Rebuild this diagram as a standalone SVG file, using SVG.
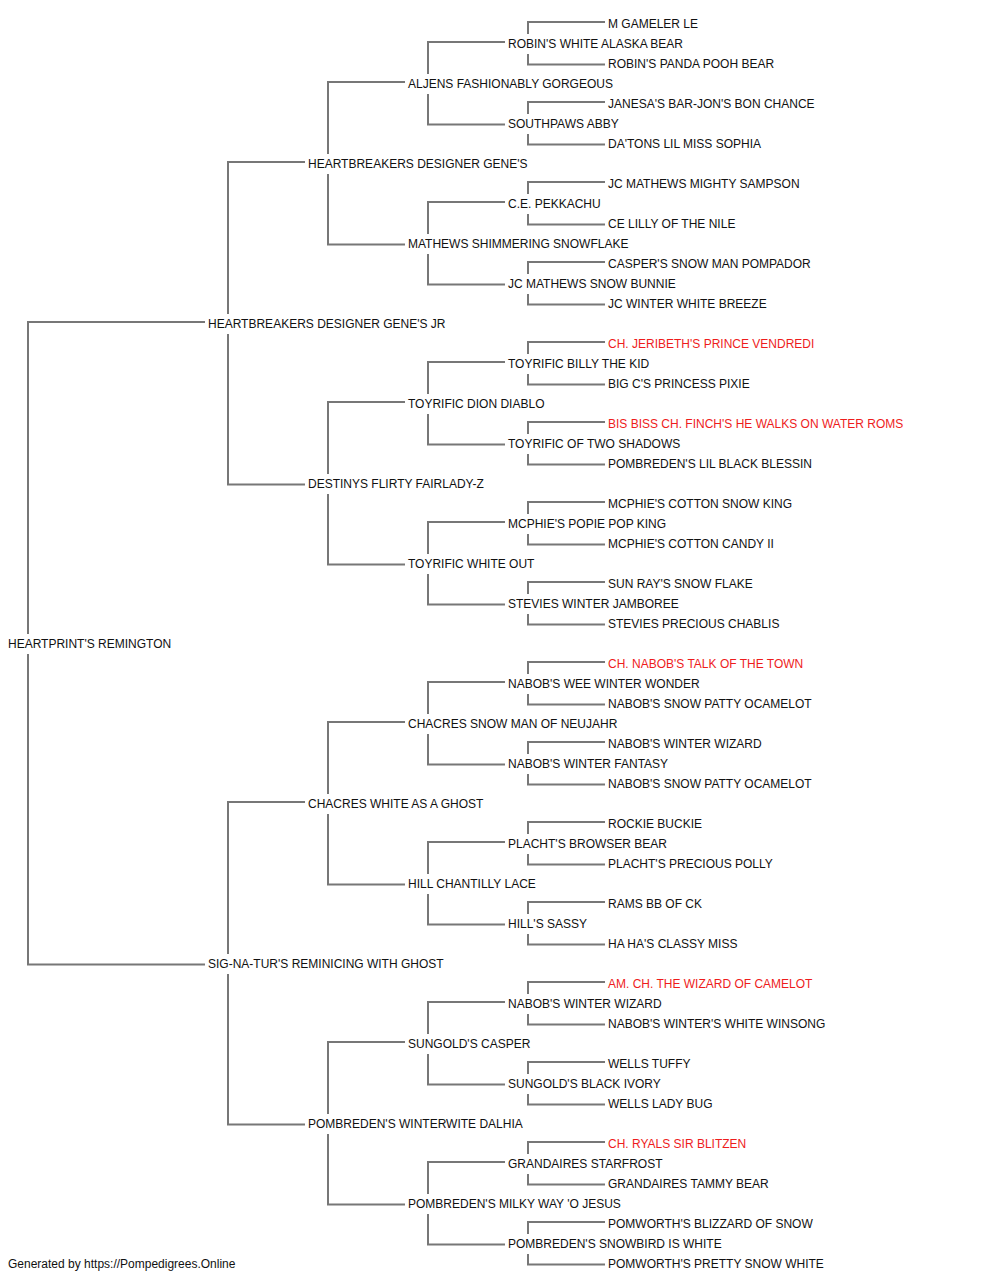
<svg xmlns="http://www.w3.org/2000/svg" width="1000" height="1280" viewBox="0 0 1000 1280">
<style>
text{font-family:"Liberation Sans",Arial,sans-serif;font-size:12px;fill:#111}
text.ch{fill:#ee1c1c}
.c path{fill:none;stroke:#777;stroke-width:2}
</style>
<rect width="1000" height="1280" fill="#fff"/>
<g class="c" id="connectors">
<path d="M205 322H28V634M28 654V964.5H205"/>
<path d="M305 162H228V314M228 334V484.5H305"/>
<path d="M305 802H228V954M228 974V1124.5H305"/>
<path d="M405 82H328V154M328 174V244.5H405"/>
<path d="M405 402H328V474M328 494V564.5H405"/>
<path d="M405 722H328V794M328 814V884.5H405"/>
<path d="M405 1042H328V1114M328 1134V1204.5H405"/>
<path d="M505 42H428V74M428 94V124.5H505"/>
<path d="M505 202H428V234M428 254V284.5H505"/>
<path d="M505 362H428V394M428 414V444.5H505"/>
<path d="M505 522H428V554M428 574V604.5H505"/>
<path d="M505 682H428V714M428 734V764.5H505"/>
<path d="M505 842H428V874M428 894V924.5H505"/>
<path d="M505 1002H428V1034M428 1054V1084.5H505"/>
<path d="M505 1162H428V1194M428 1214V1244.5H505"/>
<path d="M605 22H528V34M528 54V64.5H605"/>
<path d="M605 102H528V114M528 134V144.5H605"/>
<path d="M605 182H528V194M528 214V224.5H605"/>
<path d="M605 262H528V274M528 294V304.5H605"/>
<path d="M605 342H528V354M528 374V384.5H605"/>
<path d="M605 422H528V434M528 454V464.5H605"/>
<path d="M605 502H528V514M528 534V544.5H605"/>
<path d="M605 582H528V594M528 614V624.5H605"/>
<path d="M605 662H528V674M528 694V704.5H605"/>
<path d="M605 742H528V754M528 774V784.5H605"/>
<path d="M605 822H528V834M528 854V864.5H605"/>
<path d="M605 902H528V914M528 934V944.5H605"/>
<path d="M605 982H528V994M528 1014V1024.5H605"/>
<path d="M605 1062H528V1074M528 1094V1104.5H605"/>
<path d="M605 1142H528V1154M528 1174V1184.5H605"/>
<path d="M605 1222H528V1234M528 1254V1264.5H605"/>
</g>
<g id="n0"><text x="8" y="647.5">HEARTPRINT'S REMINGTON</text></g>
<g id="n1-0"><text x="208" y="327.5">HEARTBREAKERS DESIGNER GENE'S JR</text></g>
<g id="n1-1"><text x="208" y="967.5">SIG-NA-TUR'S REMINICING WITH GHOST</text></g>
<g id="n2-0"><text x="308" y="167.5">HEARTBREAKERS DESIGNER GENE'S</text></g>
<g id="n2-1"><text x="308" y="487.5">DESTINYS FLIRTY FAIRLADY-Z</text></g>
<g id="n2-2"><text x="308" y="807.5">CHACRES WHITE AS A GHOST</text></g>
<g id="n2-3"><text x="308" y="1127.5">POMBREDEN'S WINTERWITE DALHIA</text></g>
<g id="n3-0"><text x="408" y="87.5">ALJENS FASHIONABLY GORGEOUS</text></g>
<g id="n3-1"><text x="408" y="247.5">MATHEWS SHIMMERING SNOWFLAKE</text></g>
<g id="n3-2"><text x="408" y="407.5">TOYRIFIC DION DIABLO</text></g>
<g id="n3-3"><text x="408" y="567.5">TOYRIFIC WHITE OUT</text></g>
<g id="n3-4"><text x="408" y="727.5">CHACRES SNOW MAN OF NEUJAHR</text></g>
<g id="n3-5"><text x="408" y="887.5">HILL CHANTILLY LACE</text></g>
<g id="n3-6"><text x="408" y="1047.5">SUNGOLD'S CASPER</text></g>
<g id="n3-7"><text x="408" y="1207.5">POMBREDEN'S MILKY WAY 'O JESUS</text></g>
<g id="n4-0"><text x="508" y="47.5">ROBIN'S WHITE ALASKA BEAR</text></g>
<g id="n4-1"><text x="508" y="127.5">SOUTHPAWS ABBY</text></g>
<g id="n4-2"><text x="508" y="207.5">C.E. PEKKACHU</text></g>
<g id="n4-3"><text x="508" y="287.5">JC MATHEWS SNOW BUNNIE</text></g>
<g id="n4-4"><text x="508" y="367.5">TOYRIFIC BILLY THE KID</text></g>
<g id="n4-5"><text x="508" y="447.5">TOYRIFIC OF TWO SHADOWS</text></g>
<g id="n4-6"><text x="508" y="527.5">MCPHIE'S POPIE POP KING</text></g>
<g id="n4-7"><text x="508" y="607.5">STEVIES WINTER JAMBOREE</text></g>
<g id="n4-8"><text x="508" y="687.5">NABOB'S WEE WINTER WONDER</text></g>
<g id="n4-9"><text x="508" y="767.5">NABOB'S WINTER FANTASY</text></g>
<g id="n4-10"><text x="508" y="847.5">PLACHT'S BROWSER BEAR</text></g>
<g id="n4-11"><text x="508" y="927.5">HILL'S SASSY</text></g>
<g id="n4-12"><text x="508" y="1007.5">NABOB'S WINTER WIZARD</text></g>
<g id="n4-13"><text x="508" y="1087.5">SUNGOLD'S BLACK IVORY</text></g>
<g id="n4-14"><text x="508" y="1167.5">GRANDAIRES STARFROST</text></g>
<g id="n4-15"><text x="508" y="1247.5">POMBREDEN'S SNOWBIRD IS WHITE</text></g>
<g id="n5-0"><text x="608" y="27.5">M GAMELER LE</text></g>
<g id="n5-1"><text x="608" y="67.5">ROBIN'S PANDA POOH BEAR</text></g>
<g id="n5-2"><text x="608" y="107.5">JANESA'S BAR-JON'S BON CHANCE</text></g>
<g id="n5-3"><text x="608" y="147.5">DA'TONS LIL MISS SOPHIA</text></g>
<g id="n5-4"><text x="608" y="187.5">JC MATHEWS MIGHTY SAMPSON</text></g>
<g id="n5-5"><text x="608" y="227.5">CE LILLY OF THE NILE</text></g>
<g id="n5-6"><text x="608" y="267.5">CASPER'S SNOW MAN POMPADOR</text></g>
<g id="n5-7"><text x="608" y="307.5">JC WINTER WHITE BREEZE</text></g>
<g id="n5-8"><text class="ch" x="608" y="347.5">CH. JERIBETH'S PRINCE VENDREDI</text></g>
<g id="n5-9"><text x="608" y="387.5">BIG C'S PRINCESS PIXIE</text></g>
<g id="n5-10"><text class="ch" x="608" y="427.5">BIS BISS CH. FINCH'S HE WALKS ON WATER ROMS</text></g>
<g id="n5-11"><text x="608" y="467.5">POMBREDEN'S LIL BLACK BLESSIN</text></g>
<g id="n5-12"><text x="608" y="507.5">MCPHIE'S COTTON SNOW KING</text></g>
<g id="n5-13"><text x="608" y="547.5">MCPHIE'S COTTON CANDY II</text></g>
<g id="n5-14"><text x="608" y="587.5">SUN RAY'S SNOW FLAKE</text></g>
<g id="n5-15"><text x="608" y="627.5">STEVIES PRECIOUS CHABLIS</text></g>
<g id="n5-16"><text class="ch" x="608" y="667.5">CH. NABOB'S TALK OF THE TOWN</text></g>
<g id="n5-17"><text x="608" y="707.5">NABOB'S SNOW PATTY OCAMELOT</text></g>
<g id="n5-18"><text x="608" y="747.5">NABOB'S WINTER WIZARD</text></g>
<g id="n5-19"><text x="608" y="787.5">NABOB'S SNOW PATTY OCAMELOT</text></g>
<g id="n5-20"><text x="608" y="827.5">ROCKIE BUCKIE</text></g>
<g id="n5-21"><text x="608" y="867.5">PLACHT'S PRECIOUS POLLY</text></g>
<g id="n5-22"><text x="608" y="907.5">RAMS BB OF CK</text></g>
<g id="n5-23"><text x="608" y="947.5">HA HA'S CLASSY MISS</text></g>
<g id="n5-24"><text class="ch" x="608" y="987.5">AM. CH. THE WIZARD OF CAMELOT</text></g>
<g id="n5-25"><text x="608" y="1027.5">NABOB'S WINTER'S WHITE WINSONG</text></g>
<g id="n5-26"><text x="608" y="1067.5">WELLS TUFFY</text></g>
<g id="n5-27"><text x="608" y="1107.5">WELLS LADY BUG</text></g>
<g id="n5-28"><text class="ch" x="608" y="1147.5">CH. RYALS SIR BLITZEN</text></g>
<g id="n5-29"><text x="608" y="1187.5">GRANDAIRES TAMMY BEAR</text></g>
<g id="n5-30"><text x="608" y="1227.5">POMWORTH'S BLIZZARD OF SNOW</text></g>
<g id="n5-31"><text x="608" y="1267.5">POMWORTH'S PRETTY SNOW WHITE</text></g>
<g id="footer"><text x="8" y="1267.5">Generated by https://Pompedigrees.Online</text></g>
</svg>
